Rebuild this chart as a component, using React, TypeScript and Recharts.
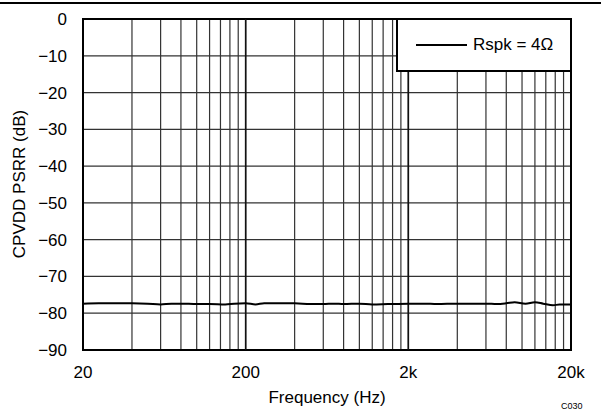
import {
  LineChart,
  Line,
  XAxis,
  YAxis,
  CartesianGrid,
  ReferenceLine,
  ReferenceArea,
} from 'recharts';

// Frequency (Hz) and PSRR (dB)
const freqs = [
  20, 25, 30, 40, 50, 60, 70, 80, 100, 120, 150, 170, 200, 230, 260, 300, 400, 500, 600, 700,
  800, 1000, 1200, 1500, 2000, 2500, 3000, 4000, 5000, 6000, 7000, 8000, 9000, 10500, 12000,
  13500, 15500, 17000, 20000,
];
const psrr = [
  -77.4, -77.3, -77.3, -77.3, -77.4, -77.6, -77.4, -77.4, -77.5, -77.5, -77.6, -77.4, -77.3,
  -77.6, -77.3, -77.3, -77.3, -77.5, -77.5, -77.4, -77.5, -77.4, -77.6, -77.5, -77.4, -77.4,
  -77.5, -77.4, -77.4, -77.4, -77.5, -77.3, -77.0, -77.4, -77.0, -77.4, -77.85, -77.6, -77.6,
];

const decadeTicks = [20, 200, 2000, 20000];
// grid lines sit on multiples of 20, 200, 2000 within each decade
const gridTicks = [
  20, 40, 60, 80, 100, 120, 140, 160, 180, 200, 400, 600, 800, 1000, 1200, 1400, 1600, 1800,
  2000, 4000, 6000, 8000, 10000, 12000, 14000, 16000, 18000, 20000,
];
const yTicks = [0, -10, -20, -30, -40, -50, -60, -70, -80, -90];
const seriesName = 'Rspk = 4Ω';

const data = freqs.map((f, i) => ({ f, v: psrr[i] }));

const font = '"Liberation Sans", Arial, sans-serif';

function formatFreq(v: number) {
  if (!decadeTicks.includes(v)) return '';
  return v >= 1000 ? `${v / 1000}k` : `${v}`;
}

function formatDb(v: number) {
  return v < 0 ? `\u2212${-v}` : `${v}`;
}

// legend drawn as an overlay box in the top-right corner of the plot
function LegendBox() {
  return (
    <div
      style={{
        position: 'absolute',
        left: 396,
        top: 18,
        boxSizing: 'border-box',
        width: 176,
        height: 54,
        border: '2px solid #000',
        background: '#fff',
        display: 'flex',
        alignItems: 'center',
        fontSize: 17,
        color: '#000',
      }}
    >
      <span style={{ display: 'inline-block', width: 51, height: 2, background: '#000', marginLeft: 18, marginRight: 6 }} />
      <span>{seriesName}</span>
    </div>
  );
}

export default function App() {
  return (
    <div style={{ position: 'absolute', left: 0, top: 0, width: 601, height: 413, background: '#fff', fontFamily: font }}>
      {/* top rule */}
      <div style={{ position: 'absolute', left: 0, top: 2, width: 601, height: 2, background: '#000' }} />

      <LineChart width={601} height={413} data={data} margin={{ top: 19, right: 30, left: 0, bottom: 0 }}>
        <CartesianGrid stroke="#333" strokeWidth={1.2} />
        <XAxis
          dataKey="f"
          type="number"
          scale="log"
          domain={[20, 20000]}
          ticks={gridTicks}
          tickFormatter={formatFreq}
          tick={{ fill: '#000', fontSize: 17, fontFamily: font }}
          tickLine={false}
          axisLine={false}
          tickSize={6}
          tickMargin={10}
          interval={0}
          height={63}
          allowDataOverflow
        />
        <YAxis
          type="number"
          domain={[-90, 0]}
          ticks={yTicks}
          tickFormatter={formatDb}
          tick={{ fill: '#000', fontSize: 17, fontFamily: font }}
          tickLine={false}
          axisLine={false}
          tickSize={6}
          tickMargin={10}
          interval={0}
          width={83}
        />
        {decadeTicks.slice(1, 3).map((t) => (
          <ReferenceLine key={t} x={t} stroke="#111" strokeWidth={1.6} />
        ))}
        <ReferenceArea x1={20} x2={20000} y1={-90} y2={0} fill="none" stroke="#000" strokeWidth={2} />
        <Line
          type="monotone"
          dataKey="v"
          name={seriesName}
          stroke="#000"
          strokeWidth={2}
          dot={false}
          isAnimationActive={false}
        />
      </LineChart>

      <LegendBox />

      <div
        style={{
          position: 'absolute',
          left: 20,
          top: 184,
          transform: 'translate(-50%, -50%) rotate(-90deg)',
          whiteSpace: 'nowrap',
          fontSize: 17,
          color: '#000',
        }}
      >
        CPVDD PSRR (dB)
      </div>
      <div
        style={{
          position: 'absolute',
          left: 327,
          top: 398,
          transform: 'translate(-50%, -50%)',
          whiteSpace: 'nowrap',
          fontSize: 17,
          color: '#000',
        }}
      >
        Frequency (Hz)
      </div>
      <div style={{ position: 'absolute', left: 561, top: 401, fontSize: 9, color: '#000' }}>C030</div>
    </div>
  );
}
